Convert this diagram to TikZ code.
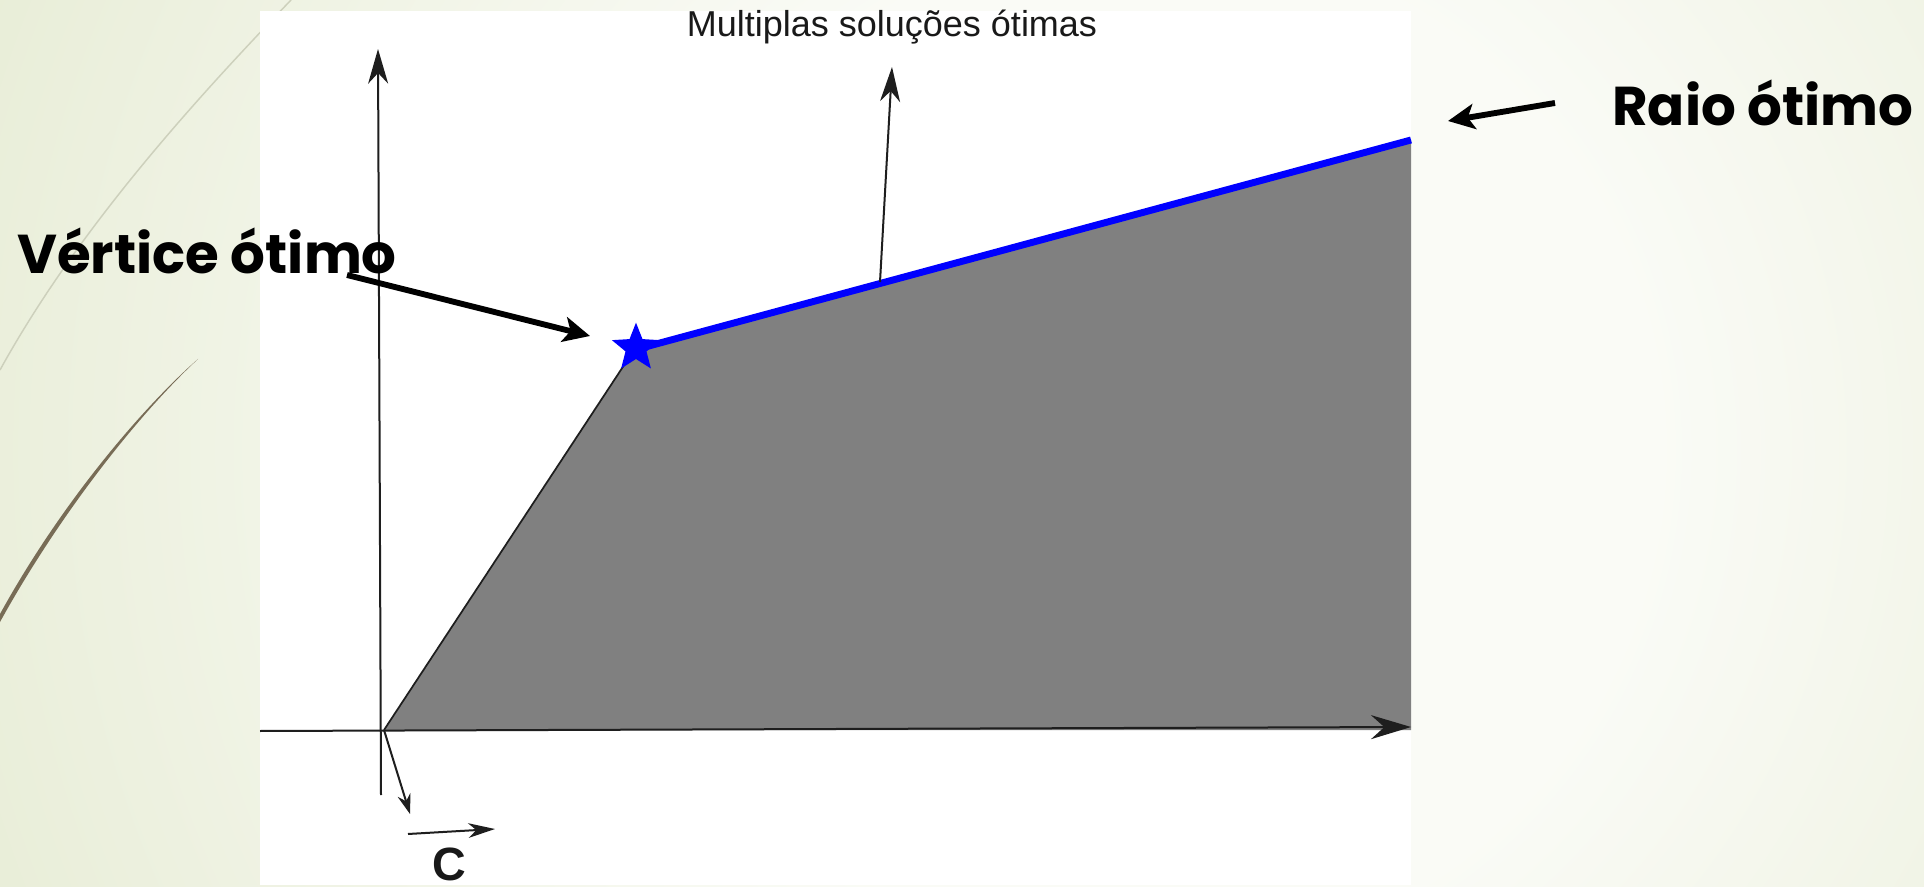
\documentclass[tikz,border=0pt]{standalone}
\usepackage{fontspec}
\setmainfont{Liberation Sans}
\newfontfamily\geo{Poppins}
\usetikzlibrary{arrows.meta,shapes.geometric}
\definecolor{bgA}{RGB}{228,234,208}
\definecolor{bgB}{RGB}{250,251,246}
\definecolor{curveL}{RGB}{205,208,188}
\definecolor{curveD}{RGB}{120,108,86}
\definecolor{region}{RGB}{128,128,128}
\definecolor{axisc}{RGB}{30,30,30}
\definecolor{textg}{RGB}{25,25,25}
\pgfdeclareradialshading{glow}{\pgfpoint{0bp}{0bp}}{color(0bp)=(bgB); color(7bp)=(bgB); color(20bp)=(bgA); color(50bp)=(bgA)}
\begin{document}
\begin{tikzpicture}[x=0.75pt,y=-0.75pt,
  axisline/.style={draw=axisc,line width=1.5pt},
  bigtip/.style={-{Stealth[length=30pt,width=18pt,inset=10pt]}},
  midtip/.style={-{Stealth[length=26pt,width=15pt,inset=8pt]}},
  smalltip/.style={-{Stealth[length=15pt,width=10pt,inset=5pt]}},
  callout/.style={draw=black,line width=4.4pt,-{Stealth[length=20pt,width=19pt,inset=5pt]}},
  bigtext/.style={anchor=base west,inner sep=0pt,font=\geo\bfseries\fontsize{41}{48}\selectfont},
]
\useasboundingbox (0,0) rectangle (1924,887);
% background
\fill[bgA] (0,0) rectangle (1924,887);
\shade[shading=glow] (1150,450) circle (1800);
\draw[curveL,line width=1.1pt] (291,0) .. controls (200,95) and (80,225) .. (0,370);
\fill[curveD] (198,359) .. controls (140,410) and (60,505) .. (0,614) -- (0,622) .. controls (62,510) and (141,412) .. (198,359) -- cycle;
% white panel
\fill[white] (260,11) rectangle (1411,885);
% coordinates
\coordinate (O) at (384,730);
\coordinate (V) at (634,350);
\coordinate (R) at (1411,140);
\coordinate (Rb) at (1411,730);
% feasible region
\fill[region] (O) -- (V) -- (R) -- (Rb) -- cycle;
\draw[axisc,line width=1.3pt] (O) -- (V);
% optimal ray
\draw[blue,line width=5.2pt] (V) -- (R);
\node[star,star points=5,star point ratio=2.3,fill=blue,minimum size=38pt,inner sep=0pt] (star) at (636,348) {};
% axes
\coordinate (xs) at (260,731);
\coordinate (xe) at (1411,727);
\coordinate (ys) at (381,795);
\coordinate (ye) at (378,49);
\draw[axisline,bigtip] (xs) -- (xe);
\draw[axisline,midtip] (ys) -- (ye);
% objective normal
\coordinate (nb) at (880,282);
\coordinate (nt) at (892,67);
\draw[axisline,midtip] (nb) -- (nt);
% small vectors near origin
\coordinate (od) at (410,814);
\draw[axisline,smalltip] (O) -- (od);
\coordinate (cs) at (408,834);
\coordinate (ce) at (495,829);
\draw[axisline,-{Stealth[length=20pt,width=11pt,inset=6pt]}] (cs) -- (ce);
\node[font=\bfseries\fontsize{35}{40}\selectfont,text=textg,inner sep=0pt] (c) at (449,864) {C};
% labels
\node[anchor=base,inner sep=0pt,text=textg,font=\fontsize{27}{31}\selectfont] (mt) at (892,37) {Multiplas soluções ótimas};
\node[bigtext] (vt) at (17,274) {Vértice ótimo};
\node[bigtext] (rt) at (1612,126) {Raio ótimo};
% callout arrows
\coordinate (va) at (347,275);
\coordinate (vb) at (590,336);
\draw[callout] (va) -- (vb);
\coordinate (ra) at (1555,103);
\coordinate (rb) at (1448,121);
\draw[callout] (ra) -- (rb);
\end{tikzpicture}
\end{document}
